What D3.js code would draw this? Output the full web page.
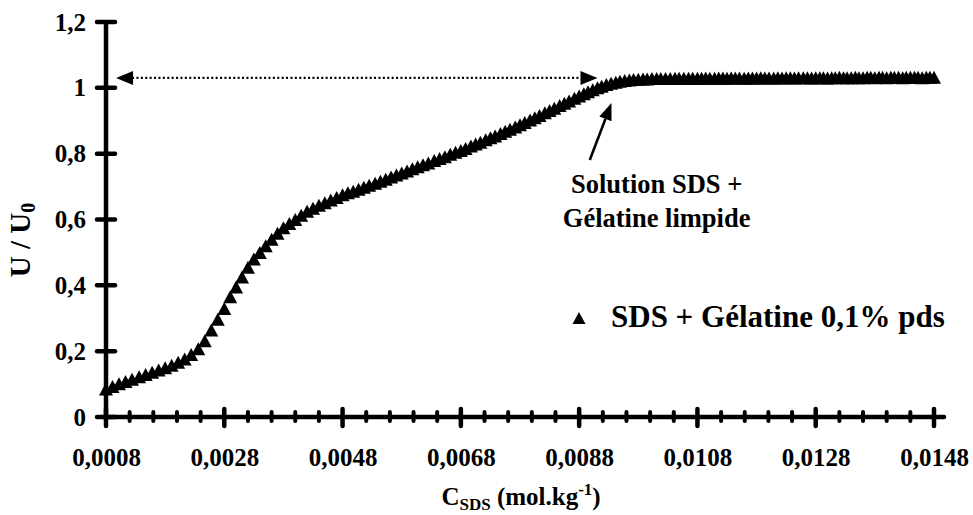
<!DOCTYPE html>
<html>
<head>
<meta charset="utf-8">
<script src="https://cdn.jsdelivr.net/npm/d3@7/dist/d3.min.js"></script>
<style>
  html, body { margin: 0; padding: 0; background: #fff; }
  svg { display: block; }
  .lbl { font-family: "Liberation Serif"; font-weight: bold; fill: #000; }
</style>
</head>
<body>
<svg id="chart" width="973" height="515"></svg>
<script>
// SDS concentration (mol/kg) along the titration
const cSDS = [
  0.00080, 0.00091, 0.00102, 0.00113, 0.00124, 0.00136, 0.00147, 0.00158, 0.00169, 0.00180,
  0.00191, 0.00202, 0.00213, 0.00224, 0.00236, 0.00247, 0.00258, 0.00269,
  0.00280, 0.00290, 0.00300, 0.00310, 0.00320, 0.00330, 0.00340, 0.00350, 0.00360, 0.00370,
  0.00380, 0.00390, 0.00400, 0.00410, 0.00420, 0.00430, 0.00440, 0.00450, 0.00460, 0.00470,
  0.00480, 0.00489, 0.00498, 0.00507, 0.00516, 0.00525, 0.00535, 0.00544, 0.00553, 0.00562,
  0.00571, 0.00580, 0.00589, 0.00598, 0.00607, 0.00616, 0.00625, 0.00635, 0.00644, 0.00653,
  0.00662, 0.00671,
  0.00680, 0.00688, 0.00697, 0.00705, 0.00713, 0.00722, 0.00730, 0.00738, 0.00747, 0.00755,
  0.00763, 0.00772, 0.00780, 0.00788, 0.00797, 0.00805, 0.00813, 0.00822, 0.00830, 0.00838,
  0.00847, 0.00855, 0.00863, 0.00872,
  0.00880, 0.00888, 0.00895, 0.00903, 0.00911, 0.00918, 0.00926, 0.00934, 0.00942, 0.00949,
  0.00957, 0.00965, 0.00972, 0.00980, 0.00988, 0.00995, 0.01003, 0.01011, 0.01018, 0.01026,
  0.01034, 0.01042, 0.01049, 0.01057, 0.01065, 0.01072,
  0.01080, 0.01087, 0.01094, 0.01101, 0.01109, 0.01116, 0.01123, 0.01130, 0.01137, 0.01144,
  0.01151, 0.01159, 0.01166, 0.01173, 0.01180, 0.01187, 0.01194, 0.01201, 0.01209, 0.01216,
  0.01223, 0.01230, 0.01237, 0.01244, 0.01251, 0.01259, 0.01266, 0.01273,
  0.01280, 0.01287, 0.01293, 0.01300, 0.01307, 0.01313, 0.01320, 0.01327, 0.01333, 0.01340,
  0.01347, 0.01353, 0.01360, 0.01367, 0.01373, 0.01380, 0.01387, 0.01393, 0.01400, 0.01407,
  0.01413, 0.01420, 0.01427, 0.01433, 0.01440, 0.01447, 0.01453, 0.01460, 0.01467, 0.01473,
  0.01480
];

// Normalised signal U / U0 for SDS + gelatine 0.1 wt%
const uRatio = [
  0.085, 0.093, 0.101, 0.108, 0.115, 0.122, 0.129, 0.136, 0.143, 0.150,
  0.157, 0.166, 0.176, 0.190, 0.207, 0.232, 0.264, 0.297,
  0.330, 0.365, 0.395, 0.425, 0.455, 0.480, 0.500, 0.520, 0.540, 0.558,
  0.575, 0.588, 0.600, 0.613, 0.625, 0.634, 0.643, 0.651, 0.659, 0.667,
  0.675, 0.681, 0.686, 0.692, 0.698, 0.704, 0.710, 0.716, 0.722, 0.729,
  0.735, 0.741, 0.747, 0.754, 0.760, 0.766, 0.772, 0.779, 0.785, 0.791,
  0.798, 0.804,
  0.810, 0.816, 0.823, 0.829, 0.835, 0.842, 0.848, 0.854, 0.861, 0.868,
  0.874, 0.881, 0.888, 0.895, 0.902, 0.909, 0.916, 0.924, 0.931, 0.938,
  0.946, 0.953, 0.960, 0.968,
  0.975, 0.982, 0.988, 0.994, 1.000, 1.005, 1.010, 1.014, 1.017, 1.020,
  1.022, 1.024, 1.025, 1.026, 1.027, 1.027, 1.028, 1.028, 1.028, 1.028,
  1.028, 1.029, 1.029, 1.029, 1.029, 1.029,
  1.029, 1.029, 1.030, 1.029, 1.029, 1.030, 1.030, 1.029, 1.030, 1.030,
  1.030, 1.029, 1.030, 1.030, 1.030, 1.031, 1.030, 1.030, 1.030, 1.031,
  1.030, 1.031, 1.031, 1.030, 1.031, 1.031, 1.031, 1.030,
  1.031, 1.031, 1.031, 1.030, 1.031, 1.031, 1.032, 1.031, 1.031, 1.031,
  1.032, 1.031, 1.031, 1.032, 1.032, 1.031, 1.032, 1.032, 1.031, 1.032,
  1.032, 1.032, 1.031, 1.032, 1.032, 1.032, 1.032, 1.031, 1.032, 1.032,
  1.032
];

const xMajorTicks = [0.0008, 0.0028, 0.0048, 0.0068, 0.0088, 0.0108, 0.0128, 0.0148];
const xMajorLabels = ["0,0008", "0,0028", "0,0048", "0,0068", "0,0088", "0,0108", "0,0128", "0,0148"];
const yTicks = [0, 0.2, 0.4, 0.6, 0.8, 1.0, 1.2];
const yLabels = ["0", "0,2", "0,4", "0,6", "0,8", "1", "1,2"];
const seriesName = "SDS + Gélatine 0,1% pds";
const noteLines = ["Solution SDS +", "Gélatine limpide"];
const plateauLevel = 1.03;

const FONT = "Liberation Serif";
const svg = d3.select("#chart");
const x = d3.scaleLinear().domain([0.0008, 0.0148]).range([106, 934]);
const y = d3.scaleLinear().domain([0, 1.2]).range([417, 22]);

// bold serif on every label
const serifBold = sel => sel.attr("class", "lbl").attr("font-family", FONT).attr("font-weight", "bold");

// minor ticks every 0.0004 between the labelled ones
const xMinorTicks = d3.range(0, 36).map(i => 0.0008 + i * 0.0004)
  .filter(v => !xMajorTicks.some(m => Math.abs(m - v) < 1e-9));

const tickFont = 25;

// ---- axes (labels from d3 axes, lines drawn thick below) ----
const gx = svg.append("g").attr("transform", `translate(0,${y(0)})`)
  .call(d3.axisBottom(x).tickValues(xMajorTicks)
    .tickFormat((d, i) => xMajorLabels[i]).tickSize(0).tickPadding(31));
gx.attr("font-family", FONT).attr("font-size", tickFont);
gx.select(".domain").remove();
gx.selectAll("text").call(serifBold).attr("font-size", tickFont);

const gy = svg.append("g").attr("transform", `translate(${x(0.0008)},0)`)
  .call(d3.axisLeft(y).tickValues(yTicks)
    .tickFormat((d, i) => yLabels[i]).tickSize(0).tickPadding(20));
gy.attr("font-family", FONT).attr("font-size", tickFont);
gy.select(".domain").remove();
gy.selectAll("text").call(serifBold).attr("font-size", tickFont);

// axis lines
svg.append("line")
  .attr("x1", x(0.0008) - 3).attr("x2", x(0.0148) + 10)
  .attr("y1", y(0)).attr("y2", y(0))
  .attr("stroke", "#000").attr("stroke-width", 4.5).attr("stroke-linecap", "round");
svg.append("line")
  .attr("x1", x(0.0008)).attr("x2", x(0.0008))
  .attr("y1", y(1.2)).attr("y2", y(0) + 2)
  .attr("stroke", "#000").attr("stroke-width", 4.5);

// crossing tick marks
svg.append("g").selectAll("line").data(xMajorTicks).join("line")
  .attr("x1", d => x(d)).attr("x2", d => x(d))
  .attr("y1", y(0) - 8).attr("y2", y(0) + 9)
  .attr("stroke", "#000").attr("stroke-width", 4.5).attr("stroke-linecap", "round");
svg.append("g").selectAll("line").data(xMinorTicks).join("line")
  .attr("x1", d => x(d)).attr("x2", d => x(d))
  .attr("y1", y(0) - 5).attr("y2", y(0) + 4)
  .attr("stroke", "#000").attr("stroke-width", 4).attr("stroke-linecap", "round");
svg.append("g").selectAll("line").data(yTicks).join("line")
  .attr("x1", x(0.0008) - 9).attr("x2", x(0.0008) + 9)
  .attr("y1", d => y(d)).attr("y2", d => y(d))
  .attr("stroke", "#000").attr("stroke-width", 4.5).attr("stroke-linecap", "round");

// ---- data markers: filled triangles ----
const tri = (w, h) => `M0,${-h / 2}L${w / 2},${h / 2}L${-w / 2},${h / 2}Z`;
svg.append("g").selectAll("path").data(cSDS.map((c, i) => [c, uRatio[i]])).join("path")
  .attr("d", tri(14, 13))
  .attr("transform", d => `translate(${x(d[0])},${y(d[1])})`)
  .attr("fill", "#000");

// ---- plateau reference: dotted double arrow ----
const yPlat = y(plateauLevel);
const leftTip = x(0.00097), rightTip = x(0.00911);
svg.append("line")
  .attr("x1", leftTip + 16).attr("x2", rightTip - 14)
  .attr("y1", yPlat).attr("y2", yPlat)
  .attr("stroke", "#000").attr("stroke-width", 2.2).attr("stroke-dasharray", "2,2.4");
svg.append("path")
  .attr("d", `M${leftTip},${yPlat}L${leftTip + 17},${yPlat - 7}L${leftTip + 17},${yPlat + 7}Z`)
  .attr("fill", "#000");
svg.append("path")
  .attr("d", `M${rightTip},${yPlat}L${rightTip - 17},${yPlat - 7}L${rightTip - 17},${yPlat + 7}Z`)
  .attr("fill", "#000");

// ---- note arrow pointing at the end of the rise ----
const tail = [x(0.00898), y(0.781)], tip = [x(0.009347), y(0.954)];
const ang = Math.atan2(tip[1] - tail[1], tip[0] - tail[0]);
const headL = 17, headW = 6.5;
const base = [tip[0] - headL * Math.cos(ang), tip[1] - headL * Math.sin(ang)];
svg.append("line")
  .attr("x1", tail[0]).attr("y1", tail[1]).attr("x2", base[0]).attr("y2", base[1])
  .attr("stroke", "#000").attr("stroke-width", 2.6);
svg.append("path")
  .attr("d", `M${tip[0]},${tip[1]}` +
    `L${base[0] + headW * Math.sin(ang)},${base[1] - headW * Math.cos(ang)}` +
    `L${base[0] - headW * Math.sin(ang)},${base[1] + headW * Math.cos(ang)}Z`)
  .attr("fill", "#000");

svg.append("g").selectAll("text").data(noteLines).join("text")
  .call(serifBold)
  .attr("x", x(0.01011)).attr("y", (d, i) => y(0.681) + i * 34)
  .attr("text-anchor", "middle").attr("font-size", 26.5)
  .text(d => d);

// ---- legend ----
svg.append("path").attr("d", tri(13, 12))
  .attr("transform", `translate(579,318)`).attr("fill", "#000");
svg.append("text").call(serifBold).attr("x", 611).attr("y", 327)
  .attr("font-size", 31).text(seriesName);

// ---- axis titles ----
const xt = svg.append("text").call(serifBold).attr("x", 521).attr("y", 505)
  .attr("text-anchor", "middle").attr("font-size", 25);
xt.append("tspan").text("C");
xt.append("tspan").attr("dy", 5).attr("font-size", 17).text("SDS");
xt.append("tspan").attr("dy", -5).text(" (mol.kg");
xt.append("tspan").attr("dy", -10).attr("font-size", 17).text("-1");
xt.append("tspan").attr("dy", 10).text(")");

const yt = svg.append("text").call(serifBold).attr("transform", "translate(30,240) rotate(-90)")
  .attr("text-anchor", "middle").attr("font-size", 29);
yt.append("tspan").text("U / U");
yt.append("tspan").attr("dy", 5).attr("font-size", 20).text("0");
</script>
</body>
</html>
